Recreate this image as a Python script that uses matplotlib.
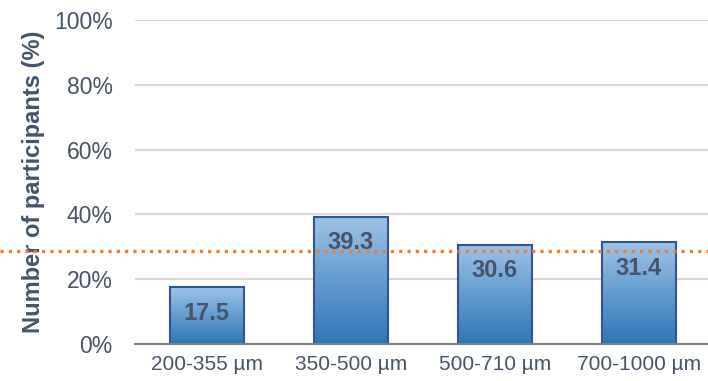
import matplotlib
matplotlib.use("Agg")
import matplotlib.pyplot as plt
import matplotlib.transforms as mtransforms
from matplotlib.colors import LinearSegmentedColormap
import numpy as np

categories = ["200-355 µm", "350-500 µm", "500-710 µm", "700-1000 µm"]
values = [17.5, 39.3, 30.6, 31.4]
value_labels = ["17.5", "39.3", "30.6", "31.4"]
reference_level = 28.7
yticks = [0, 20, 40, 60, 80, 100]
ytick_labels = ["0%", "20%", "40%", "60%", "80%", "100%"]
ylabel = "Number of participants (%)"

plt.rcParams['font.family'] = ['Liberation Sans', 'DejaVu Sans']
text_color = "#44546A"

fig = plt.figure(figsize=(7.08, 3.81), dpi=100)
ax = fig.add_axes([135/708, 37/381, 573/708, 324/381])

x = np.arange(len(categories))
bars = ax.bar(x, values, width=0.51, facecolor="none", edgecolor="#2F5597",
              linewidth=1.5, zorder=3)

# gradient fill
cmap = LinearSegmentedColormap.from_list("g", ["#2E75B6", "#9DC3E6"])
grad = np.linspace(0, 1, 256).reshape(-1, 1)
for b in bars:
    x0, y0 = b.get_x(), b.get_y()
    w, h = b.get_width(), b.get_height()
    im = ax.imshow(grad, extent=[x0, x0 + w, y0, y0 + h], origin="lower",
                   cmap=cmap, aspect="auto", zorder=2)
    im.set_clip_path(b)

ax.set_xlim(-0.5, 3.48)
ax.set_ylim(0, 100)
ax.set_aspect("auto")

ax.set_yticks(yticks)
ax.set_yticklabels(ytick_labels)
ax.set_xticks(x)
ax.set_xticklabels(categories)
ax.tick_params(axis="both", length=0, colors=text_color)
ax.tick_params(axis="x", labelsize=15, pad=8)
ax.tick_params(axis="y", labelsize=16.5, pad=16)

ax.yaxis.grid(True, color="#D9D9D9", linewidth=1.5, zorder=0)
ax.set_axisbelow(True)
for s in ["top", "right", "left"]:
    ax.spines[s].set_visible(False)
ax.spines["bottom"].set_color("#7F7F7F")
ax.spines["bottom"].set_linewidth(1.5)
ax.spines["bottom"].set_zorder(4)

ax.set_ylabel(ylabel, fontsize=17, fontweight="bold", color=text_color)
ax.yaxis.set_label_coords((45 - 135) / 573, 0.5)

# reference dotted line spanning whole figure width
trans = mtransforms.blended_transform_factory(ax.transAxes, ax.transData)
ax.plot([-135/573, 1.0], [reference_level, reference_level], transform=trans,
        color="#ED7D31", linewidth=2.3, linestyle=(0, (1, 1.6)),
        dash_capstyle="butt", clip_on=False, zorder=5)

for xi, v, lbl in zip(x, values, value_labels):
    ax.text(xi, v - 8, lbl, ha="center", va="center", fontsize=17,
            fontweight="bold", color=text_color, zorder=6)

fig.savefig("out.png", dpi=100)
